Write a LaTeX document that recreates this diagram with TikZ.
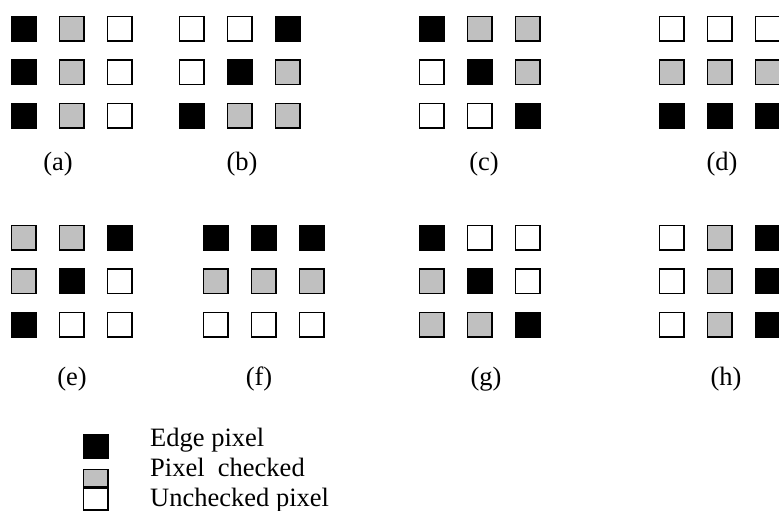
\documentclass[tikz,border=0pt]{standalone}
\usepackage{fontspec}
\setmainfont{Liberation Serif}
\definecolor{checkgray}{HTML}{C0C0C0}

\tikzset{
  px/.style={draw=black, line width=1.6pt, minimum size=24.4pt, inner sep=0pt, anchor=north west},
  pxB/.style={px, fill=black},
  pxG/.style={px, fill=checkgray},
  pxW/.style={px, fill=white},
  lbl/.style={font=\fontsize{26.5}{31}\selectfont, inner sep=0pt},
}

% one 3x3 neighbourhood: name, left, top, cells row by row
\newcommand{\pixelgrid}[4]{%
  \foreach \s [count=\i from 0] in {#4} {
    \pgfmathtruncatemacro{\prow}{\i/3}
    \pgfmathtruncatemacro{\pcol}{mod(\i,3)}
    \node[px\s] (#1-\prow-\pcol) at (#2+48*\pcol, #3+43.5*\prow) {};
  }%
}

\begin{document}
\begin{tikzpicture}[x=1pt, y=-1pt]
      \useasboundingbox (0,0) rectangle (779,511);
      \clip (0,0) rectangle (779,511);

      % First row of cases
      \pixelgrid{a}{10.8}{15.8}{B,G,W,B,G,W,B,G,W}
      \pixelgrid{b}{178.8}{15.8}{W,W,B,W,B,G,B,G,G}
      \pixelgrid{c}{418.8}{15.8}{B,G,G,W,B,G,W,W,B}
      \pixelgrid{d}{658.8}{15.8}{W,W,W,G,G,G,B,B,B}
      \node[lbl] (la) at (58,164) {(a)};
      \node[lbl] (lb) at (242,164) {(b)};
      \node[lbl] (lc) at (484,164) {(c)};
      \node[lbl] (ld) at (722,164) {(d)};

      % Second row of cases
      \pixelgrid{e}{10.8}{224.8}{G,G,B,G,B,W,B,W,W}
      \pixelgrid{f}{202.8}{224.8}{B,B,B,G,G,G,W,W,W}
      \pixelgrid{g}{418.8}{224.8}{B,W,W,G,B,W,G,G,B}
      \pixelgrid{h}{658.8}{224.8}{W,G,B,W,G,B,W,G,B}
      \node[lbl] (le) at (72,379) {(e)};
      \node[lbl] (lf) at (259,379) {(f)};
      \node[lbl] (lg) at (486,379) {(g)};
      \node[lbl] (lh) at (726,379) {(h)};

      % Legend
      \node[pxB, minimum width=24.4pt, minimum height=23.4pt] (keyedge) at (82.8,433.8) {};
      \node[pxG, minimum width=24.4pt, minimum height=17pt] (keychecked) at (82.8,468.8) {};
      \node[pxW, minimum width=24.4pt, minimum height=22pt, anchor=north] (keyunchecked) at (keychecked.south) {};
      \node[lbl, anchor=base west] (tedge) at (150,446) {Edge pixel};
      \node[lbl, anchor=base west] (tchecked) at (150,476) {Pixel\ \ checked};
      \node[lbl, anchor=base west] (tunchecked) at (150,506) {Unchecked pixel};
    \end{tikzpicture}
\end{document}
